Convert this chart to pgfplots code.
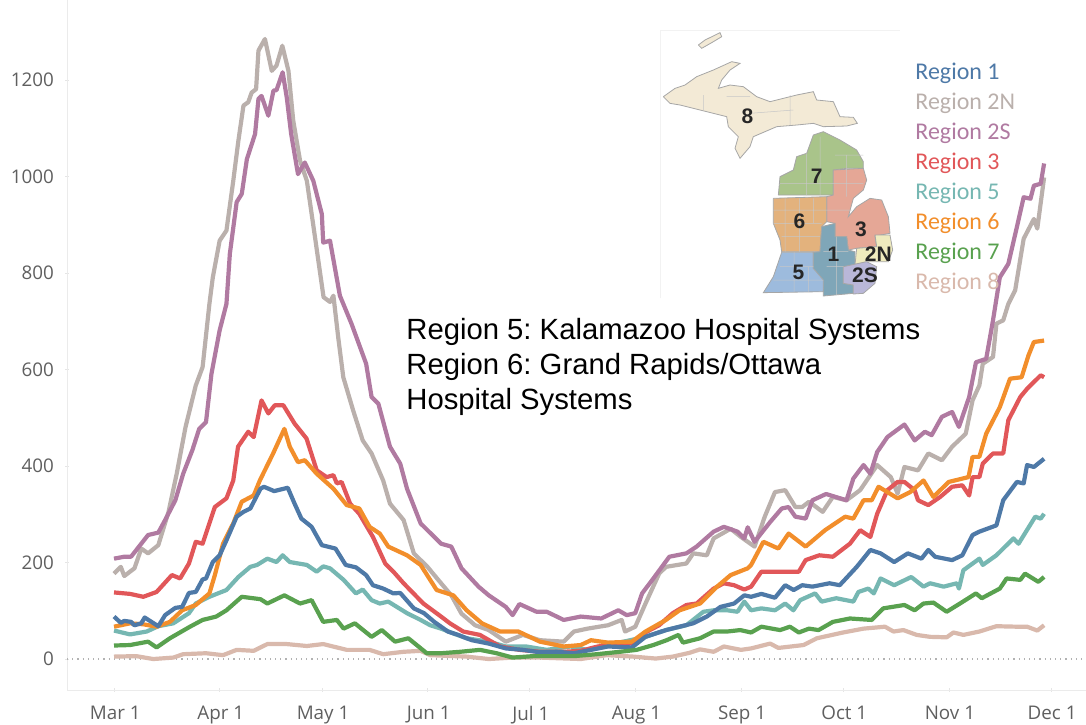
\documentclass[border=0pt]{standalone}
\usepackage{fontspec}
\setmainfont{Liberation Sans}
\newfontfamily\tickfont{Open Sans}
\newfontfamily\legfont{Carlito}
\usepackage{pgfplots}
\pgfplotsset{compat=1.18}
\definecolor{regA}{HTML}{4E79A7}
\definecolor{regB}{HTML}{BAB0AC}
\definecolor{regC}{HTML}{B07AA1}
\definecolor{regD}{HTML}{E15759}
\definecolor{regE}{HTML}{76B7B2}
\definecolor{regF}{HTML}{F28E2B}
\definecolor{regG}{HTML}{59A14F}
\definecolor{regH}{HTML}{D9B9AC}
\definecolor{tickgray}{HTML}{5F5F5F}
\definecolor{mapA}{HTML}{7FA6B8}
\definecolor{mapB}{HTML}{EFEBBE}
\definecolor{mapC}{HTML}{B9B7D8}
\definecolor{mapD}{HTML}{E5A796}
\definecolor{mapE}{HTML}{9DBBDD}
\definecolor{mapF}{HTML}{E3B27D}
\definecolor{mapG}{HTML}{A9C48A}
\definecolor{mapH}{HTML}{F3EAD6}
\tikzset{ser/.style={line width=2.1pt, line join=round},
  mp/.style={fill=#1, draw=black!35, line width=0.4pt},
  reg/.style={font=\legfont\fontsize{12}{12}\selectfont, anchor=west, text=#1, inner sep=0pt},
  num/.style={font=\bfseries\fontsize{10.5}{10.5}\selectfont, text=black!85},
  blurb/.style={font=\frenchspacing\fontsize{14.63}{14.63}\selectfont, anchor=west, text=black, inner sep=0pt}}
\begin{document}
\begin{tikzpicture}
\path[use as bounding box] (0,0) rectangle (543pt,362pt);
\begin{axis}[
  at={(33.5pt,17pt)}, anchor=south west, scale only axis,
  width=509.5pt, height=345pt,
  xmin=-13.8, xmax=285.3, ymin=-64.2, ymax=1365.8,
  axis x line=bottom, axis y line=left,
  axis line style={-, black!8},
  major tick style={black!10},
  major tick length=2pt,
  no markers,
  xtick={0,31,61,92,122,153,184,214,245,275},
  xticklabels={Mar 1,Apr 1,May 1,Jun 1,Jul 1,Aug 1,Sep 1,Oct 1,Nov 1,Dec 1},
  ytick={0,200,400,600,800,1000,1200},
  tick label style={font=\tickfont\fontsize{9.4}{9.4}\selectfont, text=tickgray},
  x tick label style={yshift=-3.5pt, xshift=0.6pt},
  y tick label style={xshift=-2pt},
  /pgf/number format/assume math mode=true,
  /pgf/number format/set thousands separator={},
  clip=false]
\addplot[dotted, black!30, line width=0.6pt, forget plot] coordinates {(-13.8,0)(285.3,0)};
% Region 8
\addplot[ser, regH] coordinates {(0,5)(6.5,6)(11.5,0)(17.4,3)(20.3,10)(27,12)(32,8)(36,19)(41,17)(45,31)(50.7,31)(56.6,27)(61.4,31)(68.3,19)(75,19)(79,10)(85,15)(90,17)(92.8,8)(103.5,5)(110,0)(117,3)(125,3)(137,0)(144.6,8)(152.4,5)(159,1)(164,5)(169,13)(172,20)(176,15)(179,26)(184,19)(187,22)(192.6,32)(195,23)(202.4,29)(206.3,43)(214,55)(220,63)(226.3,67)(228.8,57)(231.7,60)(235.6,50)(239.5,46)(244.4,45)(246.4,55)(249.3,50)(254,57)(259,68)(265,67)(268,67)(271,59)(273,70)};
% Region 2N
\addplot[ser, regB] coordinates {(0,177)(2,191)(3,172)(6,188)(8,229)(10,219)(13,236)(16,305)(18.4,384)(21,481)(24,567)(26,605)(28,736)(29,791)(31,867)(33,888)(35,991)(36.5,1074)(38,1147)(39.4,1154)(40.4,1174)(41.7,1181)(42.4,1261)(44.3,1285)(46.3,1219)(47.7,1230)(49.4,1271)(51.2,1219)(52.6,1116)(54.6,1033)(56.6,991)(59,874)(61.5,750)(63.4,740)(64.4,753)(65.8,667)(67.3,584)(70.2,515)(73,453)(75.6,426)(79,370)(81,322)(85,288)(88,219)(92,191)(96,157)(99,132)(102,94)(106,70)(110,60)(115,36)(120,50)(125,39)(132,36)(135,57)(139,63)(145,70)(149,81)(150,57)(153,67)(156,115)(160,177)(162,191)(168,198)(170,219)(174,215)(176,250)(181,270)(184,253)(188,233)(191,295)(194,346)(197,350)(200,315)(202,315)(204,326)(208,305)(211,336)(215,329)(219,350)(224,402)(228,377)(230,343)(232,398)(236,391)(239,426)(243,412)(246,440)(250,467)(252,536)(254,567)(255,612)(258,626)(259,695)(261,702)(262.5,736)(264.5,764)(267,871)(270,912)(271,892)(273,998)};
% Region 2S
\addplot[ser, regC] coordinates {(0,208)(3,212)(5,212)(8,239)(10,257)(13,262)(15,288)(18,329)(20.3,384)(23,433)(25,477)(27,491)(28.6,591)(31,681)(33,736)(34,840)(36,947)(37.5,964)(39,1036)(41.4,1088)(42.4,1161)(43.3,1167)(45.3,1126)(46.8,1178)(47.7,1179)(49.5,1216)(50.7,1164)(52,1088)(54,1005)(56,1029)(58.5,991)(61,922)(61.4,863)(63.4,867)(66.3,753)(69.7,695)(74,612)(75.6,543)(77.6,529)(81,440)(84,405)(86,353)(90,281)(94,253)(96,239)(99,233)(102,188)(107,150)(110,132)(115,108)(117,91)(119,114)(124,98)(127,98)(132,81)(137,88)(143,84)(148,101)(150.5,91)(153,95)(155,136)(158,164)(163,212)(168,219)(171,233)(176,264)(179,274)(183,264)(185,250)(186,273)(188,243)(192.6,284)(196,312)(198,315)(200,295)(203,291)(205,329)(209,342)(215,329)(217,374)(220,402)(222,384)(224,429)(227,460)(232,486)(235,453)(238,471)(240,464)(243,502)(246,512)(248,481)(251,543)(253,615)(256,622)(258,702)(260,791)(262.5,819)(265,895)(267,957)(269,954)(270,981)(272,985)(273,1027)};
% Region 5
\addplot[ser, regE] coordinates {(0,59)(4.7,51)(9.6,57)(13,68)(17.4,74)(22,95)(24,115)(28,129)(33,143)(36.5,170)(40,191)(42,195)(45,208)(47.7,201)(49.5,215)(51.6,201)(56.6,195)(59.5,181)(61.4,192)(63.4,188)(67.4,164)(71,136)(73,144)(75.6,122)(78,115)(80.5,119)(86,95)(90,81)(92.8,70)(96,63)(99.6,53)(103.5,43)(110,36)(115,26)(121,26)(127,19)(134,26)(139,19)(145,29)(151.5,39)(156,46)(162,60)(168,70)(173,98)(176,101)(180,101)(183,98)(185,119)(187,101)(190,105)(194,101)(197,115)(199.4,101)(201.4,122)(205.8,136)(207.7,119)(212,126)(217,119)(218.5,139)(221.4,146)(223,136)(225,167)(229,153)(234,170)(237.6,150)(239.5,157)(243.5,150)(247.4,157)(248,146)(249.3,184)(254,208)(255,195)(259,215)(264,250)(265.5,239)(270.4,295)(272,291)(273,301)};
% Region 3
\addplot[ser, regD] coordinates {(0,138)(4.7,135)(8.6,129)(12.5,139)(17,174)(19.4,167)(22,198)(24,243)(26,239)(29.6,315)(33,333)(35,370)(36.4,440)(39.4,471)(41,460)(43.3,536)(45.3,509)(47.2,526)(49.7,526)(53,488)(56.5,457)(59.5,391)(62.4,377)(64.4,381)(65.4,364)(66.8,367)(69.3,322)(72,301)(76,253)(79.6,198)(82,181)(85,157)(90.8,115)(96,88)(98.6,74)(102.5,57)(107.4,50)(113.3,26)(119,19)(125,15)(132,15)(137,17)(142,26)(148,32)(152,32)(155.4,53)(160,70)(164,95)(168,112)(171,115)(176,146)(179,157)(182,153)(185,144)(187,150)(190,181)(194.5,181)(201,181)(203,205)(207,215)(211,212)(216,239)(219,267)(222,253)(224,301)(227,350)(230,367)(232,367)(235,350)(236,329)(239,319)(242.5,336)(246,357)(249,360)(251,339)(252,377)(254,377)(255,405)(258,426)(261,426)(262.5,495)(266,543)(268,560)(272,588)(273,584)};
% Region 6
\addplot[ser, regF] coordinates {(0,67)(4.7,74)(8.6,72)(12.5,67)(16.4,77)(20,101)(24,112)(28,136)(29.6,174)(32,239)(35,281)(37.5,326)(41,339)(42.8,370)(46.7,426)(50,477)(51.6,440)(54,408)(56,412)(59.5,384)(64.4,353)(68.3,319)(72,312)(75,274)(78,260)(80.5,233)(86,215)(90,195)(94.7,143)(99.6,132)(103.5,101)(108,74)(113.3,57)(118.7,57)(125,36)(132,26)(137,29)(140,39)(145,34)(152,36)(156,57)(162,81)(166,101)(172,115)(177,150)(181,174)(186,188)(187,195)(190.6,243)(195,229)(198,260)(203,233)(208.7,267)(214.6,295)(217,291)(220,329)(222.4,329)(224.4,357)(227,346)(230,333)(233.7,346)(237.6,370)(240.5,336)(245,367)(250.8,377)(252,419)(254,419)(256,467)(260,522)(263,581)(266.4,584)(268.4,629)(270,657)(273,660)};
% Region 1
\addplot[ser, regA] coordinates {(0,88)(2,75)(3,79)(5,77)(6,70)(8,74)(9,86)(11,77)(13,68)(15,91)(18,106)(20,108)(22,137)(24,139)(26,165)(27,167)(29,201)(31,215)(33,246)(36,295)(38,305)(40,312)(43,353)(44,357)(47,348)(51,355)(53,322)(55,291)(58,274)(61,236)(65,229)(68,195)(71,190)(74,174)(76,153)(79,146)(82,136)(84,137)(88,105)(91,95)(94,77)(98,57)(101,50)(105,39)(110,32)(115,22)(120,19)(125,14)(130,15)(135,12)(140,19)(145,26)(152,24)(156,46)(162,60)(166,67)(170,74)(174,88)(178,108)(182,115)(185,132)(187,129)(190,135)(194,127)(197,153)(199.5,143)(202,153)(205,150)(210,157)(213,153)(218,191)(222,226)(225,219)(229,201)(233,219)(237,208)(239,226)(241,212)(246,205)(249,215)(252,257)(254,264)(259,277)(261,329)(265,367)(267,364)(268,402)(270,398)(273,415)};
% Region 7
\addplot[ser, regG] coordinates {(0,28)(4.7,29)(10,36)(12.5,24)(16.4,43)(22.3,67)(26,81)(30,88)(33,101)(37.5,129)(43,124)(45,115)(50,132)(54.6,115)(58,122)(61.4,77)(65.4,81)(67.4,63)(70.7,74)(75.6,46)(78.6,60)(82.5,36)(86.4,43)(91.8,12)(96,12)(101.6,15)(107.4,19)(112.3,12)(117,3)(123,6)(129,6)(135,6)(141.7,10)(148.5,15)(153.4,19)(158.3,29)(162.2,39)(165.7,50)(167,34)(172,43)(176,57)(180,57)(183.8,60)(187,55)(190,67)(195.5,60)(198.4,67)(201,55)(204,63)(206.8,60)(211,77)(216,84)(222.4,81)(225.8,105)(232,112)(235,101)(237.6,115)(240.5,117)(244.4,98)(248.3,115)(253,136)(254.7,126)(260,146)(262,167)(266,164)(267.4,177)(271.3,160)(273,170)};
\end{axis}
% inset map, coordinates of the crop at (650,20), 3 units to the pixel
\begin{axis}[
  at={(325pt,207pt)}, anchor=south west, scale only axis,
  width=200pt, height=145pt,
  xmin=0, xmax=1200, ymin=0, ymax=870, y dir=reverse,
  hide axis, clip=false, no markers, unbounded coords=jump]
\addplot[draw=black!5, line width=0.4pt] coordinates {(30,835)(30,30)(750,30)};
\addplot[mp=mapH] coordinates {(145,75)(165,60)(210,38)(215,50)(185,68)(155,85)(145,75)};
\addplot[mp=mapH] coordinates {(40,230)(75,205)(105,195)(140,170)(190,150)(245,125)(270,130)(240,150)(215,180)(205,205)(240,195)(280,200)(320,230)(360,245)(400,235)(440,225)(490,215)(500,240)(550,245)(570,290)(610,292)(622,310)(590,318)(520,320)(490,310)(440,315)(380,320)(345,335)(310,350)(300,380)(270,415)(255,385)(265,350)(235,320)(230,290)(150,270)(90,255)(60,250)(40,230)};
\addplot[mp=mapG] coordinates {(385,525)(390,470)(430,450)(440,410)(470,400)(490,345)(520,335)(570,360)(620,390)(640,425)(640,445)(590,445)(550,450)(550,525)(385,525)};
\addplot[mp=mapD] coordinates {(550,450)(640,445)(650,480)(640,510)(610,535)(595,590)(620,560)(660,535)(695,540)(715,590)(720,640)(675,648)(680,680)(620,685)(595,690)(590,650)(555,650)(555,610)(530,605)(530,530)(550,525)(550,450)};
\addplot[mp=mapF] coordinates {(370,535)(530,530)(530,605)(515,620)(510,695)(395,695)(390,660)(370,610)(370,535)};
\addplot[mp=mapE] coordinates {(395,697)(490,697)(490,745)(525,775)(520,815)(340,818)(370,770)(395,697)};
\addplot[mp=mapA] coordinates {(515,620)(555,610)(555,650)(590,650)(595,690)(615,695)(615,740)(580,740)(580,790)(610,795)(610,820)(520,828)(520,780)(490,745)(490,697)(510,695)(515,620)};
\addplot[mp=mapB] coordinates {(620,685)(680,680)(675,645)(720,645)(728,690)(715,725)(650,725)(615,735)(620,685)};
\addplot[mp=mapC] coordinates {(580,740)(650,725)(680,740)(675,790)(640,820)(610,822)(610,795)(580,790)(580,740)};
% county lines
\addplot[draw=black!22, line width=0.25pt] table {
x y
405 535
405 695
nan nan
448 535
448 695
nan nan
490 535
490 610
nan nan
370 570
530 570
nan nan
370 610
515 610
nan nan
395 650
510 650
nan nan
390 740
490 740
nan nan
432 697
432 815
nan nan
475 740
475 815
nan nan
370 780
520 780
nan nan
520 695
595 695
nan nan
530 740
580 740
nan nan
560 650
560 825
nan nan
390 490
550 490
nan nan
470 400
470 525
nan nan
510 350
510 525
nan nan
555 405
640 405
nan nan
590 405
590 445
nan nan
550 490
640 490
nan nan
590 445
590 530
nan nan
530 570
605 570
nan nan
160 225
160 270
nan nan
230 230
300 230
nan nan
420 225
420 315
nan nan
300 280
430 270
};
\node[num] at (axis cs:292,288) {8};
\node[num] at (axis cs:500,468) {7};
\node[num] at (axis cs:448,605) {6};
\node[num] at (axis cs:633,628) {3};
\node[num] at (axis cs:685,703) {2N};
\node[num] at (axis cs:550,703) {1};
\node[num] at (axis cs:445,757) {5};
\node[num] at (axis cs:645,765) {2S};
\end{axis}
% legend and text block, coordinates in reference pixels
\begin{axis}[
  at={(0pt,0pt)}, anchor=south west, scale only axis,
  width=543pt, height=362pt,
  xmin=0, xmax=1086, ymin=0, ymax=724, y dir=reverse,
  hide axis, clip=false]
\node[reg=regA] at (axis cs:915,73) {Region 1};
\node[reg=regB] at (axis cs:915,103) {Region 2N};
\node[reg=regC] at (axis cs:915,133) {Region 2S};
\node[reg=regD] at (axis cs:915,163) {Region 3};
\node[reg=regE] at (axis cs:915,193) {Region 5};
\node[reg=regF] at (axis cs:915,223) {Region 6};
\node[reg=regG] at (axis cs:915,253) {Region 7};
\node[reg=regH] at (axis cs:915,283) {Region 8};
\node[blurb] at (axis cs:406,332) {Region 5: Kalamazoo Hospital Systems};
\node[blurb] at (axis cs:406,367) {Region 6: Grand Rapids/Ottawa};
\node[blurb] at (axis cs:406,402) {Hospital Systems};
\end{axis}
\end{tikzpicture}
\end{document}
